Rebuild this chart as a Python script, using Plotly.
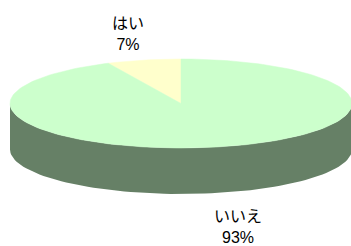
import numpy as np
import plotly.graph_objects as go

categories = ["はい", "いいえ"]
values = [7, 93]
pct_labels = ["7%", "93%"]
top_colors = ["#FFFFCC", "#CCFFCC"]
side_colors = ["#80806A", "#668066"]

W, H = 351, 246
cx, cy = 181, 103.5
rx, ry = 171, 44.5
depth = 46

def pt(t, dy=0):
    r = np.radians(t)
    return cx + rx * np.sin(r), cy - ry * np.cos(r) + dy

fig = go.Figure()
total = sum(values)
bounds = []
start = 0.0
for v in values:
    end = start - 360.0 * v / total
    bounds.append((start, end))
    start = end

for (a, b), col in zip(bounds, side_colors):
    lo, hi = max(b, -270), min(a, -90)
    if hi <= lo:
        continue
    ts = np.linspace(hi, lo, 80)
    xs1, ys1 = pt(ts)
    xs2, ys2 = pt(ts[::-1], depth)
    fig.add_trace(go.Scatter(x=np.concatenate([xs1, xs2]), y=np.concatenate([ys1, ys2]),
                             fill="toself", fillcolor=col, line=dict(width=0, color=col),
                             mode="lines", hoverinfo="skip", showlegend=False))

for (a, b), col in zip(bounds, top_colors):
    ts = np.linspace(a, b, 200)
    xs, ys = pt(ts)
    xs = np.concatenate([[cx], xs, [cx]])
    ys = np.concatenate([[cy], ys, [cy]])
    fig.add_trace(go.Scatter(x=xs, y=ys, fill="toself", fillcolor=col,
                             line=dict(width=0.5, color=col), mode="lines",
                             hoverinfo="skip", showlegend=False))

font_main = "Noto Sans CJK JP"
label_pos = [(128, 31), (238, 224)]
for cat, pl, (x, y) in zip(categories, pct_labels, label_pos):
    txt = (f"{cat}<br><span style='font-family:Liberation Sans Narrow, Liberation Sans;"
           f"font-size:16px'>{pl}</span>")
    fig.add_annotation(x=x, y=y, text=txt, showarrow=False, align="center",
                       borderpad=0,
                       font=dict(family=font_main, size=16, color="#000000"))

fig.update_layout(width=W, height=H, margin=dict(l=0, r=0, t=0, b=0),
                  paper_bgcolor="white", plot_bgcolor="white",
                  xaxis=dict(range=[0, W], visible=False, fixedrange=True),
                  yaxis=dict(range=[H, 0], visible=False, fixedrange=True))
fig.write_html("out.html", config={"displayModeBar": False},
               post_script="document.body.style.margin='0';document.body.style.overflow='hidden';")
